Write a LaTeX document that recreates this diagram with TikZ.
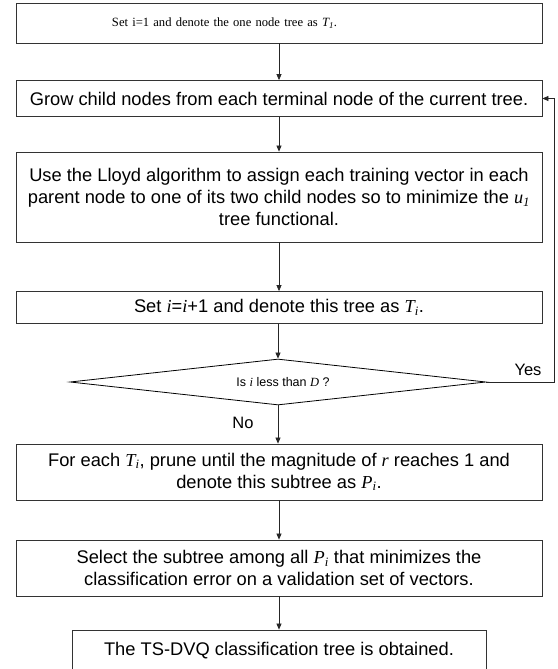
\documentclass[tikz,border=0pt]{standalone}
\usepackage{fontspec}
\setmainfont{Liberation Serif}
\setsansfont{Liberation Sans}
\usetikzlibrary{shapes.geometric,arrows.meta}
\newcommand\vi[1]{{\rmfamily\itshape #1}}
\newcommand\vsub[1]{\textsubscript{\rmfamily\itshape #1}}
\begin{document}
\begin{tikzpicture}[x=1pt,y=-1pt,
  stepbox/.style={draw=black!80, line width=0.8pt, align=center, inner sep=0pt,
    font=\sffamily\fontsize{18.3}{22}\selectfont},
  conn/.style={draw=black!85, line width=0.7pt, -{Triangle[length=6pt,width=5pt]}},
  lbl/.style={font=\sffamily\fontsize{16.5}{19}\selectfont, inner sep=0pt}
]
\useasboundingbox (0,0) rectangle (557,669);
\node[stepbox, minimum width=526pt, minimum height=40pt, text width=526pt, align=left,
  font=\rmfamily\fontsize{12.6}{15}\selectfont]
  (b1) at (279,23) {\hspace*{96pt}Set i=1 and denote the one node tree as \vi{T}\vsub{1}.};
\node[stepbox, minimum width=526pt, minimum height=36pt] (b2) at (279,98.5)
  {Grow child nodes from each terminal node of the current tree.};
\node[stepbox, minimum width=526pt, minimum height=90pt] (b3) at (279,197)
  {Use the Lloyd algorithm to assign each training vector in each\\
   parent node to one of its two child nodes so to minimize the \vi{u}\vsub{1}\\
   tree functional.};
\node[stepbox, minimum width=526pt, minimum height=32pt] (b4) at (279,307.5)
  {Set \vi{i}=\vi{i}+1 and denote this tree as \vi{T}\vsub{i}.};
\node[draw=black, line width=0.8pt, diamond, aspect=9, minimum width=416pt, minimum height=46pt,
  inner sep=0pt, font=\sffamily\fontsize{12.5}{14}\selectfont] (d) at (278,382)
  {\hspace*{10pt}Is \vi{i} less than \vi{D} ?};
\node[stepbox, minimum width=526pt, minimum height=56pt] (b5) at (279,472)
  {For each \vi{T}\vsub{i}, prune until the magnitude of \vi{r} reaches 1 and\\
   denote this subtree as \vi{P}\vsub{i}.};
\node[stepbox, minimum width=526pt, minimum height=56pt] (b6) at (279,568)
  {Select the subtree among all \vi{P}\vsub{i} that minimizes the\\
   classification error on a validation set of vectors.};
\node[stepbox, minimum width=414pt, minimum height=42pt] (b7) at (279,651)
  {The TS-DVQ classification tree is obtained.};
\coordinate (c1) at (554,382);
\coordinate (c2) at (554,98.5);
\draw[conn] (b1) -- (b2);
\draw[conn] (b2) -- (b3);
\draw[conn] (b3) -- (b4);
\draw[conn] (b4.south -| d.north) -- (d.north);
\draw[conn] (d.south) -- (b5.north -| d.south);
\draw[conn] (b5) -- (b6);
\draw[conn] (b6) -- (b7);
\draw[conn] (d.east) -- (c1) -- (c2) -- (b2.east);
\node[lbl] (yes) at (528,370) {Yes};
\node[lbl] (no) at (243,423) {No};
\end{tikzpicture}
\end{document}
